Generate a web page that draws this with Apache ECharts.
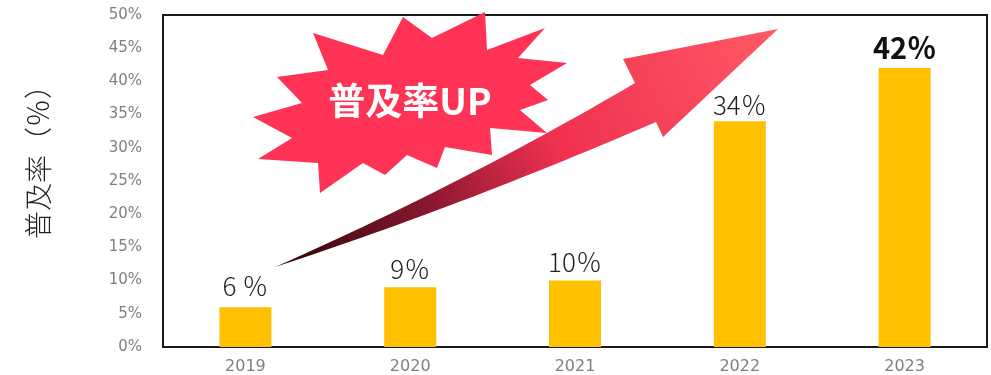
<!DOCTYPE html>
<html>
<head>
<meta charset="utf-8">
<script src="https://cdn.jsdelivr.net/npm/echarts@6/dist/echarts.min.js"></script>
<style>
html,body{margin:0;padding:0;background:#fff;}
#chart{width:991px;height:375px;}
</style>
</head>
<body>
<div id="chart"></div>
<script>
const categories = ['2019', '2020', '2021', '2022', '2023'];
const values = [6, 9, 10, 34, 42];
const valueLabels = ['6 ％', '9％', '10％', '34％', '42％'];
const yTicks = [0, 5, 10, 15, 20, 25, 30, 35, 40, 45, 50];
const yTitle = '普及率（％）';
const badgeText = '普及率UP';

const chart = echarts.init(document.getElementById('chart'));

const labelDist = [8, 5, 5, 3, 6];
const barData = values.map((v, i) => {
  const last = i === values.length - 1;
  return {
    value: v,
    label: {
      show: true,
      position: 'top',
      distance: labelDist[i],
      formatter: valueLabels[i],
      fontFamily: 'Noto Sans CJK JP',
      fontSize: last ? 29 : 26,
      fontWeight: last ? 'bold' : 300,
      color: last ? '#111' : '#222'
    }
  };
});

const starPts = [[313,33],[383,55],[403,17],[432,38],[485,12],[487,50],[545,28],[518,58],[567,63],[530,85],[548,100],[520,110],[547,133],[490,128],[492,155],[445,147],[437,168],[407,155],[385,175],[363,163],[320,193],[318,163],[258,159],[292,138],[253,117],[302,103],[277,77],[328,70]];

// decorative arrow outline (quadratic edges sampled into a polygon)
function quad(p0, c, p1, n) {
  const out = [];
  for (let k = 0; k <= n; k++) {
    const t = k / n, u = 1 - t;
    out.push([u*u*p0[0] + 2*u*t*c[0] + t*t*p1[0], u*u*p0[1] + 2*u*t*c[1] + t*t*p1[1]]);
  }
  return out;
}
const arrowPts = []
  .concat(quad([275,267], [465,183], [635,83], 30))
  .concat([[623,59], [778,29], [663,137]])
  .concat(quad([656,122], [456,208], [275,267], 30).slice(0, -1));

const option = {
  animation: false,
  grid: {
    left: 163, right: 4, top: 15, bottom: 28,
    show: true, borderColor: '#1a1a1a', borderWidth: 2
  },
  xAxis: {
    type: 'category',
    data: categories,
    axisLine: { show: true, lineStyle: { color: '#1a1a1a', width: 2 } },
    axisTick: { show: false },
    axisLabel: { color: '#7f7f7f', fontSize: 16, fontFamily: 'DejaVu Sans', margin: 12 }
  },
  yAxis: {
    type: 'value',
    min: yTicks[0], max: yTicks[yTicks.length - 1], interval: 5,
    axisLine: { show: false },
    axisTick: { show: false },
    splitLine: { show: false },
    axisLabel: { color: '#7f7f7f', fontSize: 15, fontFamily: 'DejaVu Sans', margin: 21, formatter: '{value}%' }
  },
  graphic: [
    {
      type: 'text', x: 38, y: 155, rotation: Math.PI / 2,
      style: { text: yTitle, fontFamily: 'Noto Sans CJK JP', fontSize: 28, fontWeight: 300, fill: '#222', align: 'center', verticalAlign: 'middle' }
    },
    {
      type: 'polygon', z: 10,
      shape: { points: starPts },
      style: { fill: '#ff3355' }
    },
    {
      type: 'text', z: 11, x: 410, y: 101,
      style: { text: badgeText, fontFamily: 'Noto Sans CJK JP', fontSize: 37, fontWeight: 'bold', fill: '#fff', align: 'center', verticalAlign: 'middle' }
    },
    {
      type: 'polygon', z: 12,
      shape: { points: arrowPts },
      style: {
        fill: new echarts.graphic.LinearGradient(0, 1, 1, 0, [
          { offset: 0, color: '#2a0408' },
          { offset: 0.3, color: '#8a1830' },
          { offset: 0.55, color: '#f03050' },
          { offset: 1, color: '#ff5a66' }
        ])
      }
    }
  ],
  series: [{
    type: 'bar',
    data: barData,
    barWidth: 52,
    itemStyle: { color: '#ffc000' }
  }]
};
chart.setOption(option);
</script>
</body>
</html>
